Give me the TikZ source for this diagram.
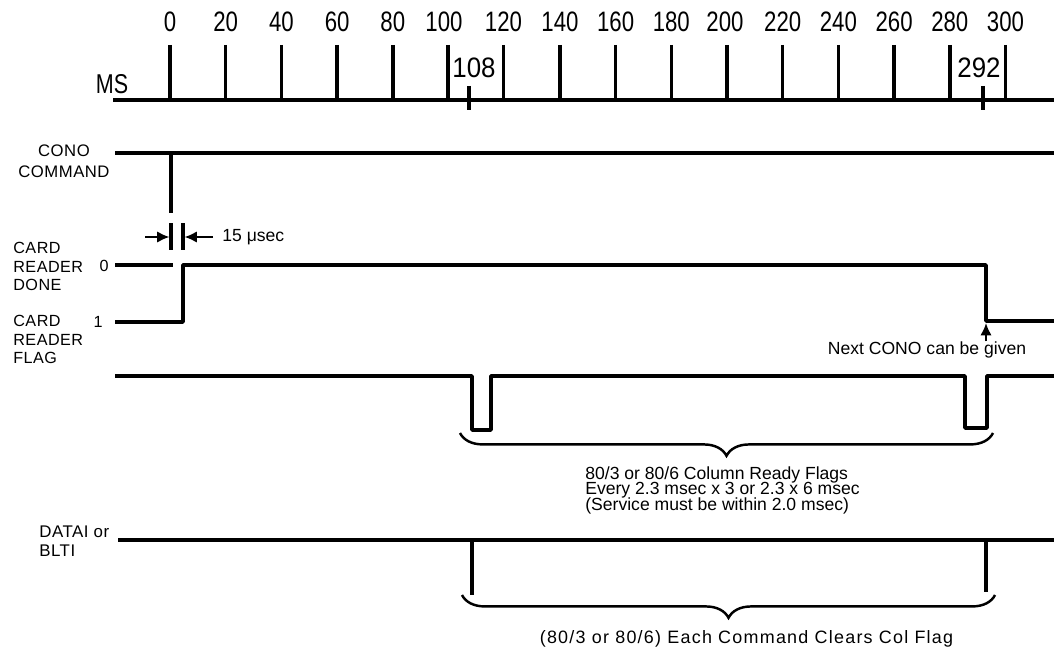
\documentclass[tikz,border=0pt]{standalone}
\usepackage{fontspec}
\setmainfont{Liberation Sans}
\newfontfamily\tickfont[FakeStretch=0.79]{Liberation Sans}
\newfontfamily\markfont[FakeStretch=0.92]{Liberation Sans}
\newfontfamily\notefont{Liberation Sans}
\newfontfamily\widenotefont[LetterSpace=7]{Liberation Sans}
\newfontfamily\lblfont[LetterSpace=3]{Liberation Sans}
\newcommand\tightlines{\lineskiplimit=-20pt\relax}
\usetikzlibrary{arrows.meta,decorations.pathreplacing}

\begin{document}
\begin{tikzpicture}[x=.02cm,y=-.02cm,
  scaleline/.style={line width=2pt},
  signal/.style={line width=2pt,line join=round},
  span/.style={decorate,decoration={brace,mirror,amplitude=13pt},line width=1.4pt},
  pointer/.style={line width=1.3pt,-{Latex[length=7pt,width=6.5pt]}},
  num/.style={font=\tickfont\fontsize{16}{19}\selectfont,inner sep=0},
  marknum/.style={font=\markfont\fontsize{16}{19}\selectfont,inner sep=0},
  lbl/.style={font=\lblfont\fontsize{9.2}{10.3}\selectfont,inner sep=0},
  note/.style={font=\notefont\fontsize{10}{8.9}\selectfont\tightlines,inner sep=0}]
\useasboundingbox (0,0) rectangle (1054,652);
% time scale
\node[num,font=\tickfont\fontsize{15.5}{18}\selectfont] (ms) at (112,84) {MS};
\draw[scaleline] (113,100) -- (1054,100);
\draw[scaleline] (170,45) -- (170,100);
\node[num] (t0) at (170,22) {0};
\draw[scaleline] (225.7,45) -- (225.7,100);
\node[num] (t20) at (225.7,22) {20};
\draw[scaleline] (281.4,45) -- (281.4,100);
\node[num] (t40) at (281.4,22) {40};
\draw[scaleline] (337.1,45) -- (337.1,100);
\node[num] (t60) at (337.1,22) {60};
\draw[scaleline] (392.8,45) -- (392.8,100);
\node[num] (t80) at (392.8,22) {80};
\draw[scaleline] (448,45) -- (448,100);
\node[num] (t100) at (444,22) {100};
\draw[scaleline] (503.5,45) -- (503.5,100);
\node[num] (t120) at (503.5,22) {120};
\draw[scaleline] (560,45) -- (560,100);
\node[num] (t140) at (560,22) {140};
\draw[scaleline] (615.6,45) -- (615.6,100);
\node[num] (t160) at (615.6,22) {160};
\draw[scaleline] (671.3,45) -- (671.3,100);
\node[num] (t180) at (671.3,22) {180};
\draw[scaleline] (727,45) -- (727,100);
\node[num] (t200) at (725,22) {200};
\draw[scaleline] (782.7,45) -- (782.7,100);
\node[num] (t220) at (782.7,22) {220};
\draw[scaleline] (838.4,45) -- (838.4,100);
\node[num] (t240) at (838.4,22) {240};
\draw[scaleline] (894.1,45) -- (894.1,100);
\node[num] (t260) at (894.1,22) {260};
\draw[scaleline] (949.8,45) -- (949.8,100);
\node[num] (t280) at (949.8,22) {280};
\draw[scaleline] (1005.5,45) -- (1005.5,100);
\node[num] (t300) at (1005.5,22) {300};
\draw[scaleline] (469,86) -- (469,110);
\node[marknum] (t108) at (474,68) {108};
\draw[scaleline] (983,86) -- (983,110);
\node[marknum] (t292) at (979,68) {292};
% CONO command
\node[lbl,font=\lblfont\fontsize{9.5}{11.9}\selectfont,align=center] (cono) at (64,161.5) {CONO\\COMMAND};
\draw[signal] (115,153) -- (1054,153);
\draw[signal] (171,153) -- (171,213);
% 15 usec gap
\draw[scaleline] (171,223) -- (171,250);
\draw[scaleline] (183,223) -- (183,250);
\coordinate (gapL) at (169.5,237);
\coordinate (gapR) at (184.5,237);
\coordinate (tailL) at (145,237);
\coordinate (tailR) at (213,237);
\draw[pointer] (tailL) -- (gapL);
\draw[pointer] (tailR) -- (gapR);
\node[note,anchor=west] (usec) at (222,237) {15 μsec};
% card reader done / flag
\node[lbl,anchor=west,align=left] (done) at (13,266.5) {CARD\\READER\\DONE};
\node[lbl] (zero) at (104,266) {0};
\node[lbl,anchor=west,align=left] (flag) at (13,339.5) {CARD\\READER\\FLAG};
\node[lbl] (one) at (98,322) {1};
\draw[signal] (115,265) -- (173,265);
\draw[signal] (115,322) -- (183,322) -- (183,265) -- (986,265) -- (986,321) -- (1054,321);
\coordinate (ready) at (986,323);
\node[note] (next) at (927,350) {Next CONO can be given};
\draw[pointer] (next.north -| ready) -- (ready);
% column ready flags
\draw[signal] (115,376) -- (472,376) -- (472,430) -- (491,430) -- (491,376) -- (965,376) -- (965,428) -- (987,428) -- (987,376) -- (1054,376);
\draw[span] (460,433) -- (993,433);
\node[note,anchor=north west,align=left] (every) at (585,466) {80/3 or 80/6 Column Ready Flags\\Every 2.3 msec x 3 or 2.3 x 6 msec\\(Service must be within 2.0 msec)};
% datai / blti
\node[lbl,font=\lblfont\fontsize{9.6}{10.8}\selectfont,anchor=west,align=left] (datai) at (39,541.5) {DATAI or\\BLTI};
\draw[signal] (118,540) -- (1054,540);
\draw[signal] (472,540) -- (472,595);
\draw[signal] (986,540) -- (986,592);
\draw[span] (462,595) -- (995,595);
\node[note,font=\widenotefont\fontsize{10.2}{11}\selectfont] (clears) at (746.5,639) {(80/3 or 80/6) Each Command Clears Col Flag};
\end{tikzpicture}
\end{document}
